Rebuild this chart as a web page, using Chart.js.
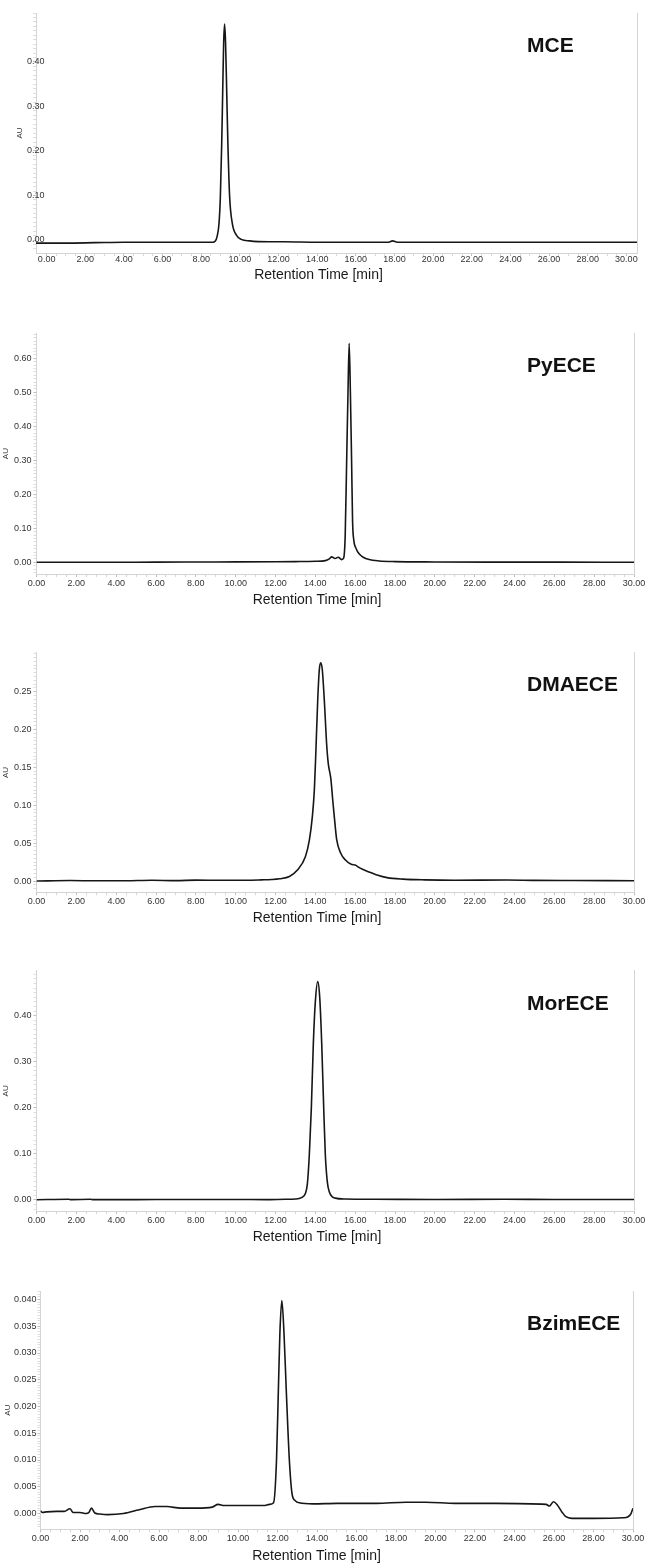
<!DOCTYPE html>
<html>
<head>
<meta charset="utf-8">
<script src="https://cdn.jsdelivr.net/npm/chart.js@4.4.1/dist/chart.umd.min.js"></script>
<style>
  html, body { margin: 0; padding: 0; background: #fff; }
  #wrap { position: relative; width: 647px; height: 1564px; overflow: hidden; background: #fff; }
  #wrap canvas { position: absolute; left: 0; }
</style>
</head>
<body>
<div id="wrap"></div>
<script>
// Retention time axis labels (min)
const xTicks = [0, 2, 4, 6, 8, 10, 12, 14, 16, 18, 20, 22, 24, 26, 28, 30];

// MCE
const mceTime = [-0.55, 1.0, 2.5, 4.0, 6.0, 8.0, 8.6, 8.72, 8.82, 8.92, 8.99, 9.06, 9.11, 9.16,
  9.21, 9.26, 9.32, 9.38, 9.47, 9.61, 9.82, 10.07, 10.5, 11.5, 12.3, 14.0, 16.0, 17.7, 17.9, 18.15,
  20.0, 22.0, 25.6, 28.0, 30.55];
const mceAU = [-0.007, -0.007, -0.006, -0.005, -0.005, -0.005, -0.005, -0.003, 0.0075, 0.037, 0.097,
  0.217, 0.33, 0.442, 0.485, 0.442, 0.33, 0.217, 0.097, 0.037, 0.011, 0.0015, -0.002, -0.004, -0.004,
  -0.005, -0.005, -0.005, -0.002, -0.005, -0.005, -0.005, -0.005, -0.005, -0.005];
const mceTicks = [0, 0.1, 0.2, 0.3, 0.4];

// PyECE
const pyTime = [0, 3, 6, 9, 12, 13.0, 14.0, 14.5, 14.7, 14.82, 14.99, 15.15, 15.32, 15.42, 15.50,
  15.57, 15.64, 15.70, 15.76, 15.82, 15.87, 15.93, 16.05, 16.2, 16.4, 16.7, 17.2, 18.0, 20.0, 23.0,
  26.0, 30.0];
const pyAU = [0.0, 0.0, 0.0005, 0.001, 0.0015, 0.002, 0.003, 0.005, 0.010, 0.016, 0.011, 0.015, 0.008,
  0.012, 0.08, 0.29, 0.50, 0.644, 0.50, 0.30, 0.12, 0.066, 0.04, 0.025, 0.015, 0.008, 0.004, 0.002,
  0.001, 0.0005, 0.0005, 0.0];
const pyTicks = [0, 0.1, 0.2, 0.3, 0.4, 0.5, 0.6];

// DMAECE
const dmTime = [0, 1.7, 3, 4.5, 5.8, 7, 8, 9.3, 10.5, 11.3, 11.8, 12.2, 12.7, 13.1, 13.5, 13.7, 13.85,
  13.95, 14.03, 14.12, 14.2, 14.27, 14.35, 14.45, 14.57, 14.65, 14.78, 14.88, 14.97, 15.07, 15.27,
  15.5, 15.8, 16.0, 16.25, 16.6, 16.8, 17.1, 17.6, 18.4, 19.5, 21, 23.6, 25, 27, 30];
const dmAU = [0.0, 0.0006, 0.0003, 0.0004, 0.001, 0.0005, 0.0012, 0.001, 0.001, 0.0015, 0.002, 0.003,
  0.006, 0.0145, 0.032, 0.054, 0.085, 0.12, 0.173, 0.239, 0.279, 0.288, 0.279, 0.239, 0.18, 0.155,
  0.135, 0.105, 0.08, 0.055, 0.037, 0.028, 0.022, 0.021, 0.017, 0.013, 0.011, 0.008, 0.0045, 0.0025,
  0.0015, 0.001, 0.0013, 0.0008, 0.0006, 0.0004];
const dmTicks = [0, 0.05, 0.1, 0.15, 0.2, 0.25];

// MorECE
const morTime = [0, 1.6, 1.75, 2.7, 2.85, 4, 6, 8, 10, 11.5, 12.5, 13.0, 13.3, 13.5, 13.6, 13.7, 13.8,
  13.9, 14.0, 14.12, 14.22, 14.32, 14.42, 14.5, 14.6, 14.7, 14.85, 15.0, 15.5, 17, 20, 23.5, 26, 30];
const morAU = [0.0005, 0.0015, 0.0008, 0.0015, 0.0008, 0.0008, 0.001, 0.001, 0.001, 0.0008, 0.0015,
  0.002, 0.005, 0.014, 0.035, 0.10, 0.20, 0.34, 0.43, 0.474, 0.44, 0.34, 0.20, 0.10, 0.04, 0.018,
  0.007, 0.004, 0.002, 0.0015, 0.001, 0.0015, 0.001, 0.001];
const morTicks = [0, 0.1, 0.2, 0.3, 0.4];

// BzimECE
const bzTime = [0.0, 0.1, 0.3, 0.8, 1.2, 1.49, 1.65, 2.0, 2.3, 2.45, 2.58, 2.75, 3.0, 3.4, 4.2, 5.0,
  5.8, 6.4, 7.1, 7.9, 8.7, 8.99, 9.3, 10.5, 11.3, 11.6, 11.8, 11.95, 12.04, 12.12, 12.22, 12.33, 12.45,
  12.6, 12.74, 12.9, 13.1, 13.8, 15.0, 17.0, 18.5, 19.5, 21.0, 23.0, 25.6, 25.77, 25.97, 26.15, 26.4,
  26.6, 26.9, 28.0, 29.5, 29.75, 29.9, 30.0];
const bzAU = [0.0005, 0.0002, 0.0003, 0.0004, 0.0004, 0.0009, 0.0002, 0.0002, 0.0, 0.0002, 0.001,
  0.0001, -0.0001, -0.0002, 0.0, 0.0007, 0.0013, 0.0013, 0.001, 0.001, 0.0012, 0.0017, 0.0015, 0.0015,
  0.0015, 0.0017, 0.002, 0.010, 0.0225, 0.0336, 0.0398, 0.0336, 0.0225, 0.010, 0.0036, 0.0024, 0.002,
  0.0018, 0.0019, 0.0019, 0.0021, 0.0021, 0.0019, 0.0019, 0.0017, 0.0014, 0.0022, 0.0017, 0.0003,
  -0.0006, -0.0009, -0.0009, -0.0008, -0.0006, 0.0, 0.001];
const bzTicks = [0, 0.005, 0.01, 0.015, 0.02, 0.025, 0.03, 0.035, 0.04];

// panel geometry (page pixels) and axis ranges
const panels = [
  { name: 'MCE', time: mceTime, au: mceAU, ticks: mceTicks, minor: 0.01, digits: 2,
    canvasTop: 0, canvasH: 292, top: 13, bottom: 253, left: 36, right: 637,
    xMin: -0.55, xMax: 30.55, yMin: -0.0292, yMax: 0.51,
    titleY: 275, nameY: 51.5, auPad: 15, labelPad: -9, mirror: true, xPad: -2 },
  { name: 'PyECE', time: pyTime, au: pyAU, ticks: pyTicks, minor: 0.01, digits: 2,
    canvasTop: 315, canvasH: 300, top: 333.3, bottom: 574, left: 36.5, right: 634,
    xMin: 0, xMax: 30, yMin: -0.0344, yMax: 0.6735,
    titleY: 600, nameY: 371.5, auPad: 1, labelPad: 2, mirror: false, xPad: 1 },
  { name: 'DMAECE', time: dmTime, au: dmAU, ticks: dmTicks, minor: 0.005, digits: 2,
    canvasTop: 635, canvasH: 300, top: 652.7, bottom: 892.3, left: 36.5, right: 634,
    xMin: 0, xMax: 30, yMin: -0.0149, yMax: 0.3015,
    titleY: 918, nameY: 690.5, auPad: 1, labelPad: 2, mirror: false, xPad: 1 },
  { name: 'MorECE', time: morTime, au: morAU, ticks: morTicks, minor: 0.01, digits: 2,
    canvasTop: 950, canvasH: 304, top: 970.7, bottom: 1211, left: 36.5, right: 634,
    xMin: 0, xMax: 30, yMin: -0.0239, yMax: 0.4977,
    titleY: 1237, nameY: 1010, auPad: 1, labelPad: 2, mirror: false, xPad: 1 },
  { name: 'BzimECE', time: bzTime, au: bzAU, ticks: bzTicks, minor: 0.0005, digits: 3,
    canvasTop: 1270, canvasH: 294, top: 1291, bottom: 1529.3, left: 40.5, right: 633,
    xMin: 0, xMax: 30, yMin: -0.00295, yMax: 0.04159,
    titleY: 1556, nameY: 1330, auPad: 3, labelPad: 1, mirror: false, xPad: 1 }
];

const FONT = '"Liberation Sans", Arial, sans-serif';
const TITLE_SIZE = 14;

function stepValues(min, max, step) {
  const out = [];
  for (let i = Math.ceil(min / step - 1e-9); i * step <= max + 1e-9; i++) {
    out.push(+(i * step).toFixed(6));
  }
  return out;
}

function isIn(list, v) {
  return list.some(t => Math.abs(t - v) < 1e-9);
}

// sample name drawn inside the plot, top right
const sampleName = {
  id: 'sampleName',
  afterDraw(chart, args, opts) {
    const ctx = chart.ctx;
    ctx.save();
    ctx.font = 'bold 21px ' + FONT;
    ctx.fillStyle = '#111';
    ctx.textBaseline = 'alphabetic';
    ctx.fillText(opts.text, opts.x, opts.y);
    ctx.restore();
  }
};

const wrap = document.getElementById('wrap');

panels.forEach(p => {
  const canvas = document.createElement('canvas');
  canvas.width = 647;
  canvas.height = p.canvasH;
  canvas.style.width = '647px';
  canvas.style.height = p.canvasH + 'px';
  canvas.style.top = p.canvasTop + 'px';
  wrap.appendChild(canvas);

  const titleLine = TITLE_SIZE * 1.2;
  const xAxisH = p.titleY - titleLine / 2 - p.bottom;
  const padTop = p.top - p.canvasTop;
  const padBottom = p.canvasH - (p.bottom - p.canvasTop) - xAxisH - titleLine;

  const xValues = stepValues(0, 30, 0.5);
  const yValues = stepValues(p.yMin, p.yMax, p.minor);

  new Chart(canvas, {
    type: 'line',
    data: {
      datasets: [{
        data: p.time.map((t, i) => ({ x: t, y: p.au[i] })),
        borderColor: '#161616',
        borderWidth: 1.6,
        pointRadius: 0,
        fill: false,
        cubicInterpolationMode: 'monotone'
      }]
    },
    options: {
      responsive: false,
      animation: false,
      devicePixelRatio: 1,
      layout: { padding: { top: padTop, left: 0, right: 647 - p.right, bottom: padBottom } },
      plugins: {
        legend: { display: false },
        tooltip: { enabled: false },
        title: {
          display: true,
          position: 'bottom',
          text: 'Retention Time [min]',
          color: '#1a1a1a',
          font: { family: FONT, size: TITLE_SIZE, weight: 'normal' },
          padding: { top: 0, bottom: 0 }
        },
        sampleName: { text: p.name, x: 527, y: p.nameY - p.canvasTop }
      },
      scales: {
        x: {
          type: 'linear',
          min: p.xMin,
          max: p.xMax,
          afterFit(s) { s.height = xAxisH; },
          afterBuildTicks(s) { s.ticks = xValues.map(v => ({ value: v })); },
          ticks: {
            autoSkip: false,
            maxRotation: 0,
            minRotation: 0,
            padding: p.xPad,
            color: '#333',
            font: { family: FONT, size: 9 },
            callback: v => (isIn(xTicks, v) ? v.toFixed(2) : '')
          },
          grid: {
            drawOnChartArea: false,
            tickLength: 3,
            color: ctx => (ctx.tick && isIn(xTicks, ctx.tick.value) ? '#bdbdbd' : '#d6d6d6')
          },
          border: { display: true, color: '#d4d4d4', width: 1 }
        },
        y: {
          type: 'linear',
          min: p.yMin,
          max: p.yMax,
          afterFit(s) { s.width = p.left; },
          afterBuildTicks(s) { s.ticks = yValues.map(v => ({ value: v })); },
          title: {
            display: true,
            text: 'AU',
            color: '#333',
            font: { family: FONT, size: 8 },
            padding: { top: p.auPad, bottom: 0 }
          },
          ticks: {
            autoSkip: false,
            mirror: p.mirror,
            padding: p.labelPad,
            color: '#333',
            font: { family: FONT, size: 9 },
            callback: v => (isIn(p.ticks, v) ? v.toFixed(p.digits) : '')
          },
          grid: {
            drawOnChartArea: false,
            tickLength: 3,
            color: ctx => (ctx.tick && isIn(p.ticks, ctx.tick.value) ? '#bdbdbd' : '#dedede')
          },
          border: { display: true, color: '#d4d4d4', width: 1 }
        },
        yRight: {
          position: 'right',
          afterFit(s) { s.width = 0; },
          ticks: { display: false },
          grid: { display: false },
          border: { display: true, color: '#d4d4d4', width: 1 }
        }
      }
    },
    plugins: [sampleName]
  });
});
</script>
</body>
</html>
